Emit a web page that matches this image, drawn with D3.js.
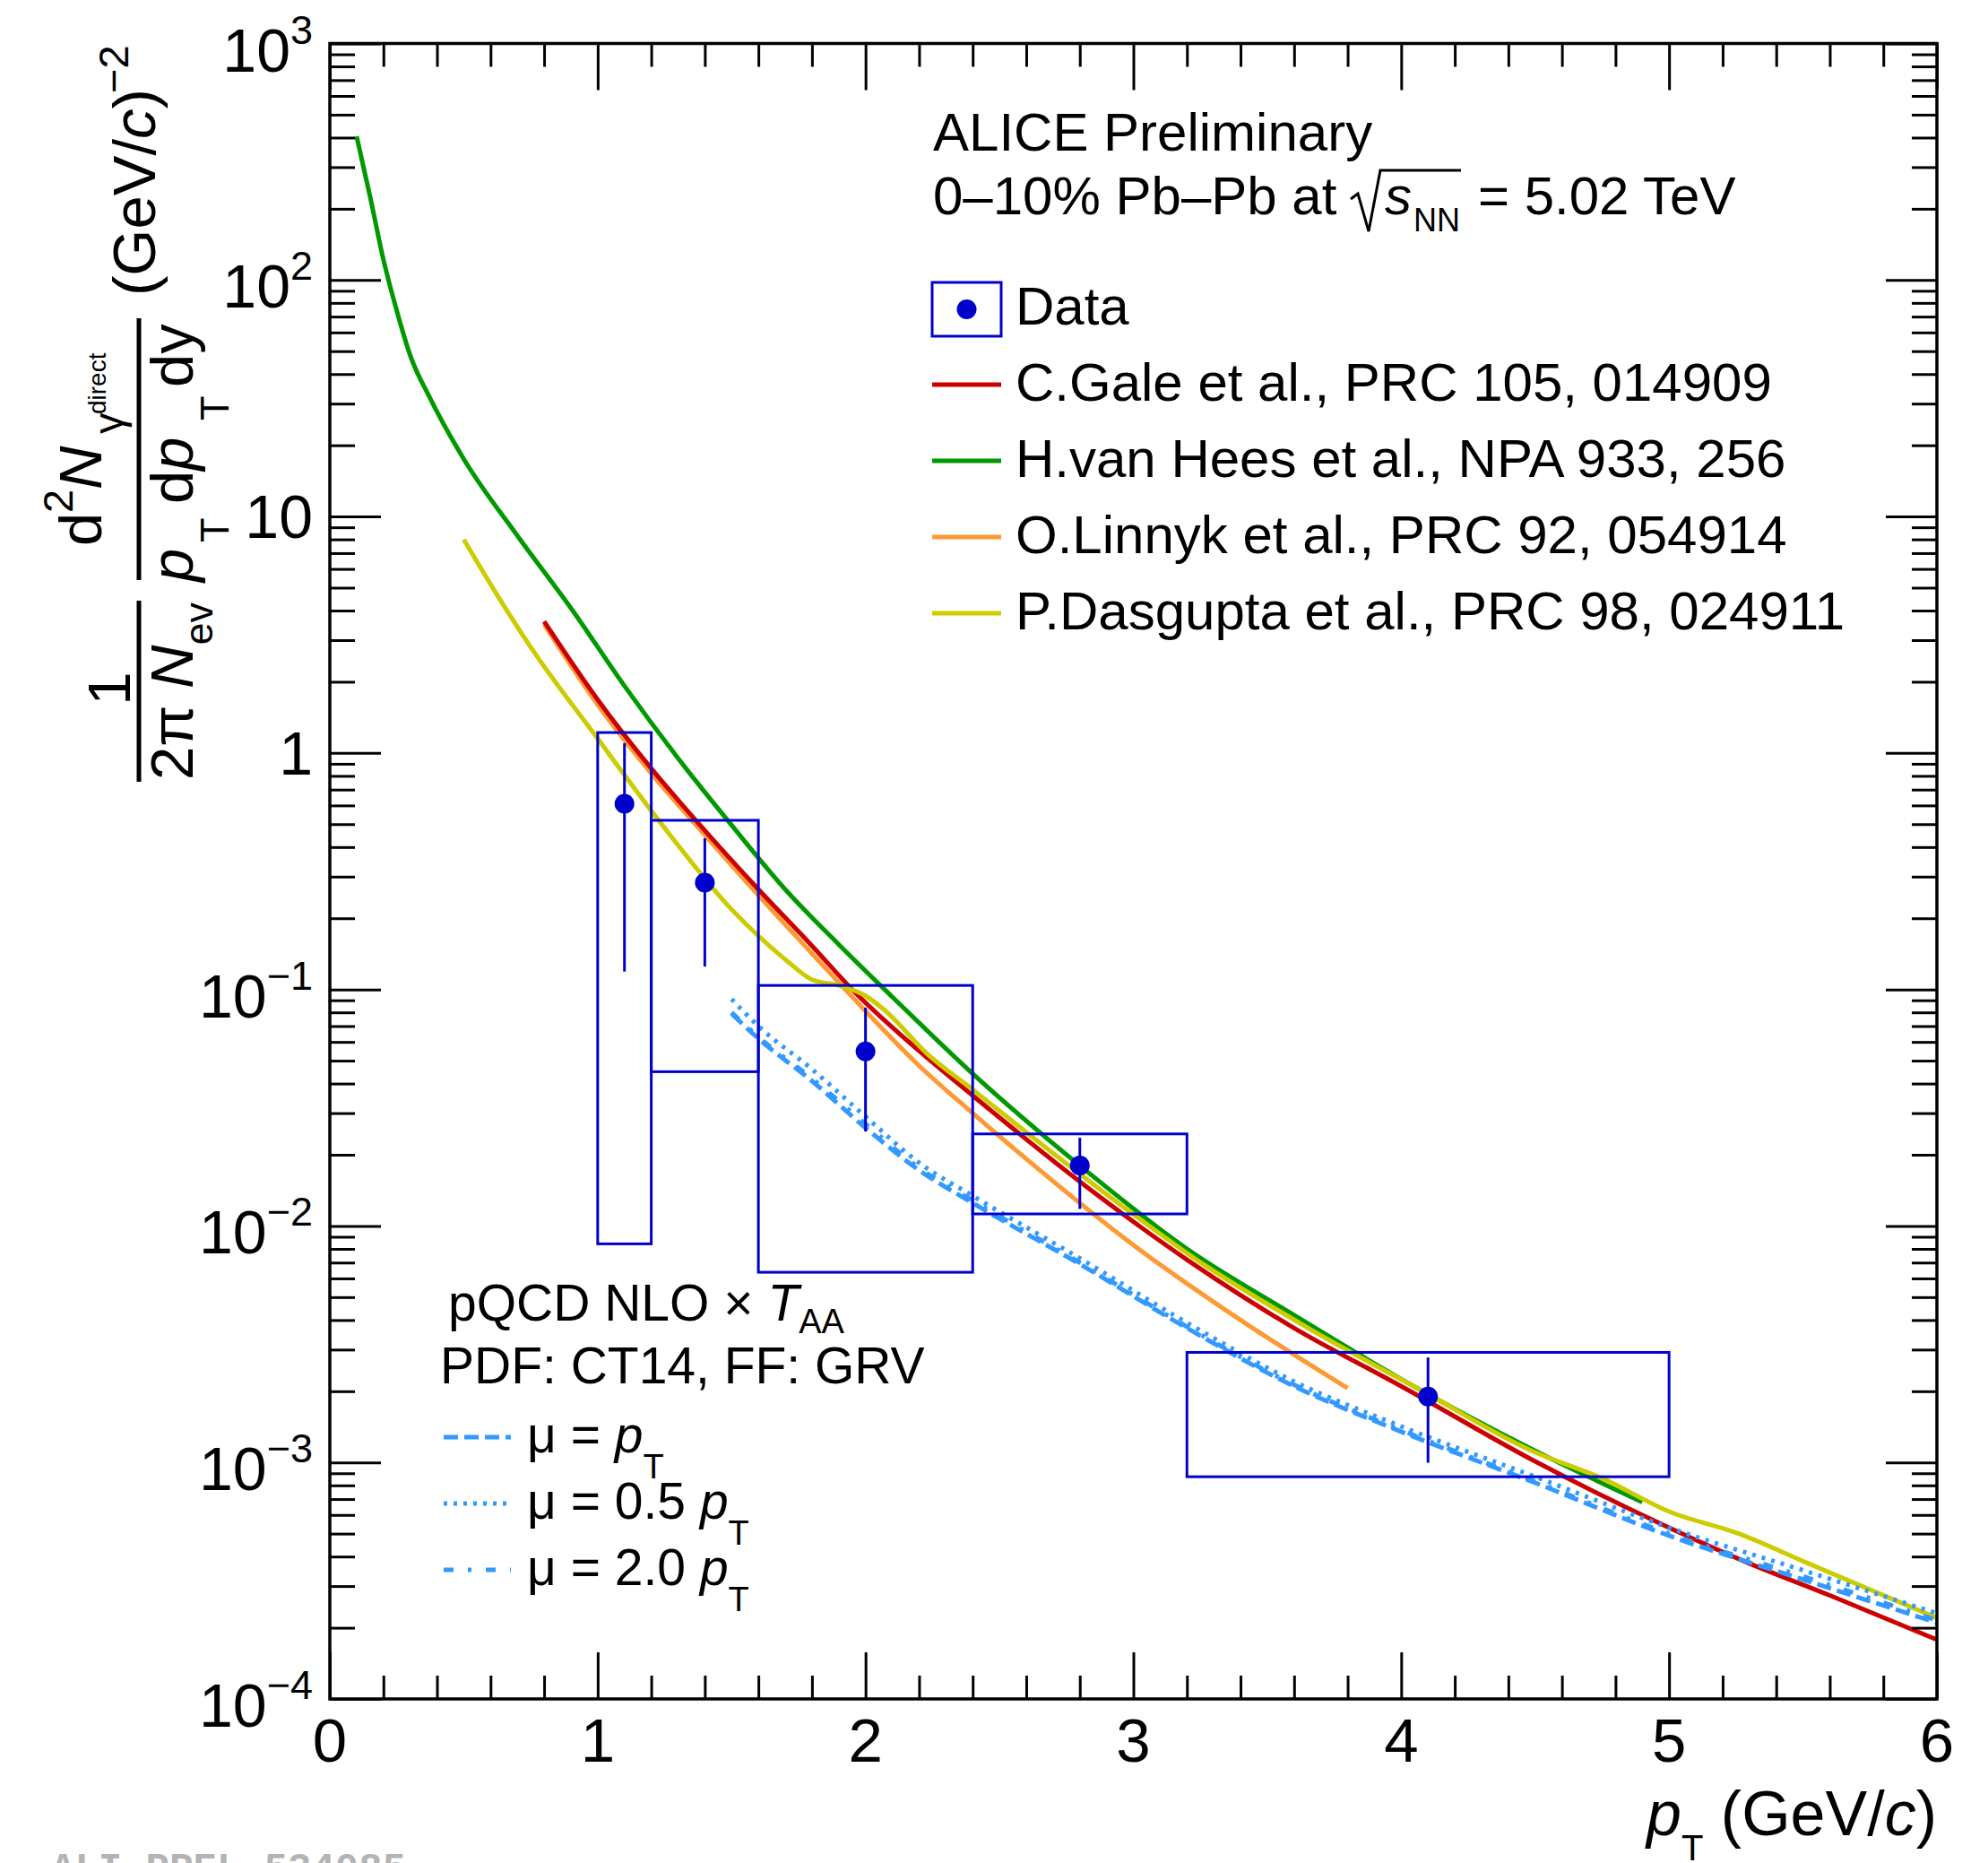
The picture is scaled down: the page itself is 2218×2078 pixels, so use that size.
<!DOCTYPE html>
<html>
<head>
<meta charset="utf-8">
<script src="https://cdn.jsdelivr.net/npm/d3@7"></script>
<style>
body { margin: 0; background: #fff; }
svg { display: block; font-family: "Liberation Sans", Arial, Helvetica, sans-serif; }
</style>
</head>
<body>
<div id="chart"></div>
<script>
// ---- data ----
const binLo  = [1.0, 1.2, 1.6, 2.4, 3.2];
const binHi  = [1.2, 1.6, 2.4, 3.2, 5.0];
const dataPt = [1.1, 1.4, 2.0, 2.8, 4.1];
const dataY  = [0.61, 0.283, 0.0547, 0.018, 0.0019];
const statLo = [0.119, 0.125, 0.0251, 0.0118, 0.000997];
const statHi = [1.10, 0.436, 0.0838, 0.0236, 0.00278];
const sysLo  = [0.0084, 0.0449, 0.00637, 0.01124, 0.00087];
const sysHi  = [1.22, 0.519, 0.104, 0.0245, 0.00292];

const galeX = [0.8, 1.0, 1.2, 1.4, 1.6, 1.8, 1.95, 2.2, 2.4, 2.8, 3.2, 3.6, 4.0, 4.5, 5.0, 5.3, 5.6, 6.0];
const galeY = [3.6, 1.68, 0.86, 0.47, 0.265, 0.153, 0.1, 0.055, 0.0356, 0.0154, 0.0072, 0.0037, 0.0021, 0.00101, 0.00053, 0.000374, 0.000274, 0.000178];

const heesX = [0.1, 0.15, 0.2, 0.25, 0.3, 0.375, 0.5, 0.7, 0.9, 1.1, 1.3, 1.5, 1.7, 1.9, 2.1, 2.4, 2.8, 3.2, 3.6, 4.0, 4.5, 4.9];
const heesY = [405, 226, 122, 74, 48, 31.5, 17.5, 8.3, 4.1, 1.92, 0.95, 0.495, 0.265, 0.155, 0.093, 0.044, 0.018, 0.008, 0.0042, 0.00225, 0.00112, 0.00068];

const linX = [0.8, 1.0, 1.2, 1.4, 1.6, 1.8, 2.0, 2.2, 2.4, 2.6, 3.0, 3.4, 3.8];
const linY = [3.5, 1.6, 0.82, 0.45, 0.25, 0.142, 0.081, 0.0476, 0.03, 0.0192, 0.0083, 0.0040, 0.00206];

const dasX = [0.5, 0.62, 0.75, 1.0, 1.23, 1.5, 1.7, 1.8, 1.9, 2.0, 2.07, 2.23, 2.4, 2.8, 3.27, 3.66, 4.08, 4.48, 4.76, 5.0, 5.26, 5.52, 6.0];
const dasY = [7.99, 4.75, 2.8, 1.15, 0.515, 0.218, 0.134, 0.11, 0.104, 0.094, 0.082, 0.0535, 0.0377, 0.0166, 0.00678, 0.00366, 0.002, 0.00113, 0.000847, 0.00062, 0.0005, 0.000374, 0.00022];

const pqcdX    = [1.5, 1.6, 1.8, 2.0, 2.2, 2.4, 2.8, 3.2, 3.6, 4.0, 4.5, 5.0, 5.5, 6.0];
const pqcdMu1  = [0.079, 0.062, 0.041, 0.026, 0.0172, 0.0125, 0.0069, 0.0037, 0.0021, 0.00135, 0.00082, 0.00049, 0.00032, 0.00021];
const pqcdMu05 = [0.091, 0.07, 0.046, 0.029, 0.0185, 0.0134, 0.0073, 0.0039, 0.0022, 0.00142, 0.00087, 0.00053, 0.00035, 0.00023];
const pqcdMu2  = [0.08, 0.063, 0.042, 0.027, 0.0176, 0.0128, 0.007, 0.00375, 0.00213, 0.00137, 0.00083, 0.0005, 0.00033, 0.000215];

const modelNames = ['C.Gale et al., PRC 105, 014909', 'H.van Hees et al., NPA 933, 256',
                    'O.Linnyk et al., PRC 92, 054914', 'P.Dasgupta et al., PRC 98, 024911'];
const xTicks = [0, 1, 2, 3, 4, 5, 6];
const xTickLabels = ['0', '1', '2', '3', '4', '5', '6'];
const yExps = [3, 2, 1, 0, -1, -2, -3, -4];

// ---- layout ----
const W = 2218, H = 2078;
const plot = {left: 368, top: 48.5, right: 2161, bottom: 1895};
const cRed = '#cc0000', cGreen = '#009900', cOrange = '#ff9933', cYellow = '#cccc00',
      cPqcd = '#3399ff', cData = '#0000cc';

const svg = d3.select('#chart').append('svg').attr('width', W).attr('height', H);

const x = d3.scaleLinear().domain([0, 6]).range([plot.left, plot.right]);
const y = d3.scaleLog().domain([1e-4, 1e3]).range([plot.bottom, plot.top]);

svg.append('clipPath').attr('id', 'clip').append('rect')
    .attr('x', plot.left).attr('y', plot.top)
    .attr('width', plot.right - plot.left).attr('height', plot.bottom - plot.top);

// helper for text with sub/superscripts
function rich(parent, px, py, size, parts) {
    let t = parent.append('text').attr('x', px).attr('y', py).attr('font-size', size).attr('fill', '#000');
    let shift = 0;
    parts.forEach(function(p) {
        let ts = t.append('tspan').text(p.t);
        if (p.size) ts.attr('font-size', p.size);
        if (p.it) ts.attr('font-style', 'italic');
        let s = p.shift || 0;
        if (s !== shift) { ts.attr('dy', s - shift); shift = s; }
    });
    return t;
}

// ---- curves ----
const line = d3.line().x(d => x(d[0])).y(d => y(d[1])).curve(d3.curveMonotoneX);
const curves = svg.append('g').attr('clip-path', 'url(#clip)');

const models = [
    {xs: linX, ys: linY, c: cOrange},
    {xs: galeX, ys: galeY, c: cRed},
    {xs: heesX, ys: heesY, c: cGreen},
    {xs: dasX, ys: dasY, c: cYellow}
];
models.forEach(function(m) {
    curves.append('path')
        .datum(m.xs.map((v, i) => [v, m.ys[i]]))
        .attr('d', line)
        .attr('fill', 'none')
        .attr('stroke', m.c)
        .attr('stroke-width', 5);
});

const pqcd = [
    {ys: pqcdMu1, dash: '16 7'},
    {ys: pqcdMu05, dash: '4 7'},
    {ys: pqcdMu2, dash: '11 16 4 16'}
];
pqcd.forEach(function(p) {
    curves.append('path')
        .datum(pqcdX.map((v, i) => [v, p.ys[i]]))
        .attr('d', line)
        .attr('fill', 'none')
        .attr('stroke', cPqcd)
        .attr('stroke-width', 5)
        .attr('stroke-dasharray', p.dash);
});

// ---- data: systematic boxes, stat bars, markers ----
const pts = dataPt.map((v, i) => ({
    x: v, y: dataY[i], lo: statLo[i], hi: statHi[i],
    blo: binLo[i], bhi: binHi[i], slo: sysLo[i], shi: sysHi[i]
}));

svg.append('g').selectAll('rect').data(pts).join('rect')
    .attr('x', d => x(d.blo))
    .attr('y', d => y(d.shi))
    .attr('width', d => x(d.bhi) - x(d.blo))
    .attr('height', d => y(d.slo) - y(d.shi))
    .attr('fill', 'none')
    .attr('stroke', cData)
    .attr('stroke-width', 3);

svg.append('g').selectAll('line').data(pts).join('line')
    .attr('x1', d => x(d.x)).attr('x2', d => x(d.x))
    .attr('y1', d => y(d.lo)).attr('y2', d => y(d.hi))
    .attr('stroke', cData)
    .attr('stroke-width', 3);

svg.append('g').selectAll('circle').data(pts).join('circle')
    .attr('cx', d => x(d.x))
    .attr('cy', d => y(d.y))
    .attr('r', 11)
    .attr('fill', cData);

// ---- axes (ticks inside, ROOT style) ----
const xMinor = d3.range(0, 6.001, 0.2).filter(v => Math.abs(v - Math.round(v)) > 1e-6);
const yMajor = yExps.map(e => Math.pow(10, e));
const yMinor = [];
yExps.slice(1).forEach(function(e) {
    for (let k = 2; k <= 9; k++) yMinor.push(k * Math.pow(10, e));
});

function tidy(g) {
    g.select('.domain').remove();
    g.selectAll('.tick line').attr('stroke', '#000').attr('stroke-width', 3);
    g.selectAll('.tick text').remove();
}

svg.append('g').attr('transform', `translate(0,${plot.bottom})`)
    .call(d3.axisBottom(x).tickValues(xTicks).tickSize(-52).tickSizeOuter(0)).call(tidy);
svg.append('g').attr('transform', `translate(0,${plot.bottom})`)
    .call(d3.axisBottom(x).tickValues(xMinor).tickSize(-26).tickSizeOuter(0)).call(tidy);
svg.append('g').attr('transform', `translate(0,${plot.top})`)
    .call(d3.axisTop(x).tickValues(xTicks).tickSize(-52).tickSizeOuter(0)).call(tidy);
svg.append('g').attr('transform', `translate(0,${plot.top})`)
    .call(d3.axisTop(x).tickValues(xMinor).tickSize(-26).tickSizeOuter(0)).call(tidy);

svg.append('g').attr('transform', `translate(${plot.left},0)`)
    .call(d3.axisLeft(y).tickValues(yMajor).tickSize(-57).tickSizeOuter(0)).call(tidy);
svg.append('g').attr('transform', `translate(${plot.left},0)`)
    .call(d3.axisLeft(y).tickValues(yMinor).tickSize(-28).tickSizeOuter(0)).call(tidy);
svg.append('g').attr('transform', `translate(${plot.right},0)`)
    .call(d3.axisRight(y).tickValues(yMajor).tickSize(-57).tickSizeOuter(0)).call(tidy);
svg.append('g').attr('transform', `translate(${plot.right},0)`)
    .call(d3.axisRight(y).tickValues(yMinor).tickSize(-28).tickSizeOuter(0)).call(tidy);

svg.append('rect')
    .attr('x', plot.left).attr('y', plot.top)
    .attr('width', plot.right - plot.left).attr('height', plot.bottom - plot.top)
    .attr('fill', 'none').attr('stroke', '#000').attr('stroke-width', 3.5);

// tick labels
svg.append('g').selectAll('text').data(xTicks).join('text')
    .attr('x', d => x(d))
    .attr('y', plot.bottom + 70)
    .attr('text-anchor', 'middle')
    .attr('font-size', 69)
    .text((d, i) => xTickLabels[i]);

yExps.forEach(function(e) {
    let ty = y(Math.pow(10, e));
    let t;
    if (e === 0 || e === 1) {
        t = svg.append('text').attr('x', 349).attr('y', ty + 24)
            .attr('font-size', 68).text(e === 0 ? '1' : '10');
    } else {
        t = rich(svg, 349, ty + 31, 68, [
            {t: '10'},
            {t: String(e).replace('-', '\u2212'), size: 45, shift: -31}
        ]);
    }
    t.attr('text-anchor', 'end');
});

// x axis title
rich(svg, plot.right, 2047, 70, [
    {t: 'p', it: true},
    {t: 'T', size: 40, shift: 28},
    {t: ' (GeV/', shift: 0},
    {t: 'c', it: true},
    {t: ')'}
]).attr('text-anchor', 'end');

// y axis title, built piece by piece in a rotated frame (x = -screenY, y = screenX)
const yt = svg.append('g').attr('transform', 'rotate(-90)');
function rt(lx, ly, size, txt, it) {
    let t = yt.append('text').attr('x', lx).attr('y', ly).attr('font-size', size).text(txt);
    if (it) t.attr('font-style', 'italic');
    return t;
}
rt(-768, 145, 67, '1').attr('text-anchor', 'middle');
let den1 = yt.append('text').attr('x', -870).attr('y', 215).attr('font-size', 67);
den1.append('tspan').text('2\u03c0 ');
den1.append('tspan').attr('font-style', 'italic').text('N');
den1.append('tspan').attr('font-size', 45).attr('dy', 22).text('ev');

rt(-609, 113, 67, 'd');
rt(-572, 81, 47, '2');
rt(-546, 113, 67, 'N', true);
rt(-484, 137, 47, '\u03b3');
rt(-462, 118, 28, 'direct');

rt(-649, 215, 67, 'p', true);
rt(-605, 255, 45, 'T');
let dp = yt.append('text').attr('x', -562).attr('y', 215).attr('font-size', 67);
dp.append('tspan').text('d');
dp.append('tspan').attr('font-style', 'italic').text('p');
rt(-469, 255, 45, 'T');
rt(-432, 215, 67, 'dy');

let unit = yt.append('text').attr('x', -330).attr('y', 173).attr('font-size', 67);
unit.append('tspan').text('(GeV/');
unit.append('tspan').attr('font-style', 'italic').text('c');
unit.append('tspan').text(')');
rt(-104, 143, 47, '\u22122');

svg.append('line').attr('x1', 155).attr('x2', 155).attr('y1', 670).attr('y2', 872)
    .attr('stroke', '#000').attr('stroke-width', 5);
svg.append('line').attr('x1', 155).attr('x2', 155).attr('y1', 355).attr('y2', 647)
    .attr('stroke', '#000').attr('stroke-width', 5);

// ---- header text and legend (upper right) ----
svg.append('text').attr('x', 1041).attr('y', 168).attr('font-size', 60).text('ALICE Preliminary');
svg.append('text').attr('x', 1041).attr('y', 239).attr('font-size', 60).text('0\u201310% Pb\u2013Pb at');
svg.append('path').attr('d', 'M1507,222 L1515,216 L1527,258 L1540,190 L1630,190')
    .attr('fill', 'none').attr('stroke', '#000').attr('stroke-width', 3);
svg.append('text').attr('x', 1545).attr('y', 239).attr('font-size', 60).attr('font-style', 'italic').text('s');
svg.append('text').attr('x', 1577).attr('y', 258).attr('font-size', 36).text('NN');
svg.append('text').attr('x', 1649).attr('y', 239).attr('font-size', 60).text('= 5.02 TeV');

const leg = svg.append('g');
leg.append('rect').attr('x', 1040).attr('y', 315).attr('width', 77).attr('height', 60)
    .attr('fill', 'none').attr('stroke', cData).attr('stroke-width', 3);
leg.append('circle').attr('cx', 1078.5).attr('cy', 345).attr('r', 11).attr('fill', cData);
leg.append('text').attr('x', 1133).attr('y', 362).attr('font-size', 60).text('Data');

const legColors = [cRed, cGreen, cOrange, cYellow];
modelNames.forEach(function(name, i) {
    let cy = 429 + i * 85;
    leg.append('line').attr('x1', 1040).attr('x2', 1117).attr('y1', cy).attr('y2', cy)
        .attr('stroke', legColors[i]).attr('stroke-width', 5);
    leg.append('text').attr('x', 1133).attr('y', cy + 18).attr('font-size', 60).text(name);
});

// ---- pQCD text and legend (lower left) ----
rich(svg, 500, 1473, 57, [
    {t: 'pQCD NLO \u00d7 '},
    {t: 'T', it: true},
    {t: 'AA', size: 38, shift: 14}
]);
svg.append('text').attr('x', 491).attr('y', 1543).attr('font-size', 57).text('PDF: CT14, FF: GRV');

const pqLabels = ['', '0.5 ', '2.0 '];
const pqDash = ['16 7', '4 7', '11 16 4 16'];
pqLabels.forEach(function(lab, i) {
    let cy = 1603 + i * 74;
    svg.append('line').attr('x1', 495).attr('x2', 570).attr('y1', cy).attr('y2', cy)
        .attr('stroke', cPqcd).attr('stroke-width', 5).attr('stroke-dasharray', pqDash[i]);
    rich(svg, 588, cy + 17, 57, [
        {t: '\u03bc = ' + lab},
        {t: 'p', it: true},
        {t: 'T', size: 38, shift: 29}
    ]);
});

// ---- preliminary id, cut at the bottom edge ----
svg.append('text').attr('x', 57).attr('y', 2097)
    .attr('font-family', '"Liberation Mono", "DejaVu Sans Mono", monospace')
    .attr('font-weight', 'bold').attr('font-size', 44).attr('fill', '#b4b4b4')
    .text('ALI-PREL-534085');
</script>
</body>
</html>
